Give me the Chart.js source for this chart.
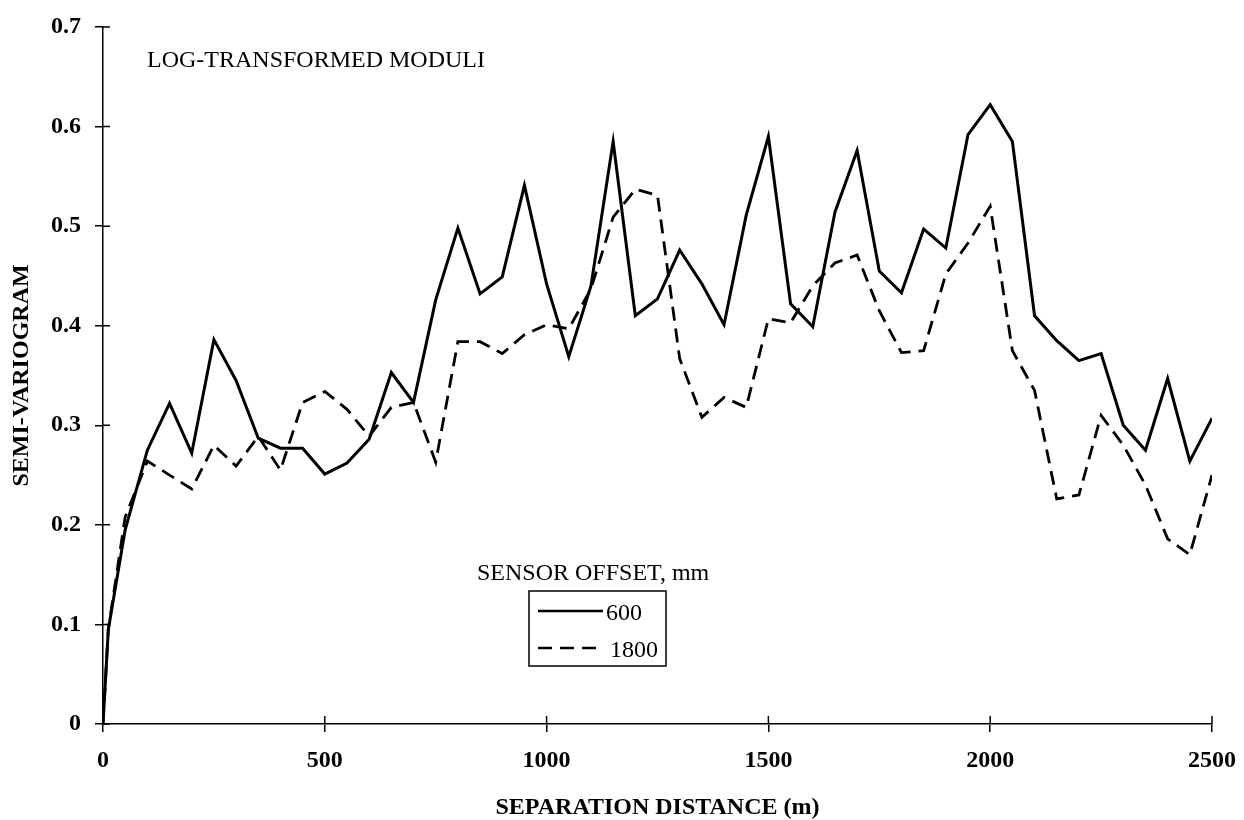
<!DOCTYPE html>
<html>
<head>
<meta charset="utf-8">
<script src="https://cdn.jsdelivr.net/npm/chart.js@4.4.1/dist/chart.umd.min.js"></script>
<style>
  html, body { margin: 0; padding: 0; background: #fff; }
  #wrap { width: 1244px; height: 820px; }
</style>
</head>
<body>
<div id="wrap"><canvas id="chart" width="1244" height="820"></canvas></div>
<script>
// lag distances (m) and semi-variogram values
const distances = [0, 12, 50, 100, 150, 200, 250, 300, 350, 400, 450, 500, 550, 600, 650, 700, 750, 800, 850, 900, 950,
    1000, 1050, 1100, 1150, 1200, 1250, 1300, 1350, 1400, 1450, 1500, 1550, 1600, 1650, 1700, 1750, 1800, 1850, 1900, 1950,
    2000, 2050, 2100, 2150, 2200, 2250, 2300, 2350, 2400, 2450, 2500];

const offset600 = [0, 0.095, 0.195, 0.275, 0.322, 0.272, 0.386, 0.345, 0.287, 0.277, 0.277, 0.251, 0.262, 0.286, 0.353, 0.323, 0.426, 0.498, 0.432, 0.449, 0.541,
    0.442, 0.369, 0.44, 0.585, 0.41, 0.427, 0.476, 0.442, 0.401, 0.511, 0.59, 0.422, 0.399, 0.514, 0.576, 0.455, 0.433, 0.497, 0.478, 0.592,
    0.622, 0.585, 0.41, 0.385, 0.365, 0.372, 0.30, 0.275, 0.347, 0.264, 0.307];

const offset1800 = [0, 0.095, 0.208, 0.264, 0.25, 0.236, 0.28, 0.259, 0.289, 0.255, 0.323, 0.334, 0.316, 0.289, 0.318, 0.323, 0.263, 0.384, 0.384, 0.372, 0.391,
    0.401, 0.397, 0.437, 0.509, 0.537, 0.531, 0.367, 0.308, 0.328, 0.318, 0.407, 0.403, 0.44, 0.463, 0.471, 0.415, 0.373, 0.375, 0.452, 0.483,
    0.52, 0.375, 0.335, 0.226, 0.23, 0.31, 0.28, 0.24, 0.186, 0.17, 0.25];

const seriesNames = ['600', '1800'];
const xTickValues = [0, 500, 1000, 1500, 2000, 2500];
const yTickValues = [0, 0.1, 0.2, 0.3, 0.4, 0.5, 0.6, 0.7];

const serif = "'Liberation Serif', 'Times New Roman', serif";

const toPoints = (xs, ys) => xs.map((x, i) => ({ x: x, y: ys[i] }));

// tick marks in the reference cross the axis, so add the inner half
const innerTicks = {
    id: 'innerTicks',
    afterDraw(chart) {
        const { ctx, chartArea, scales } = chart;
        ctx.save();
        ctx.strokeStyle = '#000';
        ctx.lineWidth = 1.5;
        ctx.beginPath();
        xTickValues.forEach(v => {
            const px = scales.x.getPixelForValue(v);
            ctx.moveTo(px, chartArea.bottom);
            ctx.lineTo(px, chartArea.bottom - 8);
        });
        yTickValues.forEach(v => {
            const py = scales.y.getPixelForValue(v);
            ctx.moveTo(chartArea.left, py);
            ctx.lineTo(chartArea.left + 7, py);
        });
        ctx.stroke();
        ctx.restore();
    }
};

// note text + boxed legend drawn inside the plot
const annotations = {
    id: 'annotations',
    afterDraw(chart) {
        const ctx = chart.ctx;
        const area = chart.chartArea;
        ctx.save();
        ctx.fillStyle = '#000';
        ctx.textBaseline = 'alphabetic';
        ctx.font = `24px ${serif}`;
        ctx.fillText('LOG-TRANSFORMED MODULI', area.left + 44, area.top + 40);

        ctx.fillText('SENSOR OFFSET, mm', 477, 580);

        const box = { x: 529, y: 591, w: 137, h: 75 };
        ctx.lineWidth = 1.5;
        ctx.strokeStyle = '#000';
        ctx.strokeRect(box.x, box.y, box.w, box.h);

        chart.data.datasets.forEach((ds, i) => {
            const rowY = box.y + 20 + i * 37;
            ctx.beginPath();
            ctx.lineWidth = 2.5;
            ctx.setLineDash(ds.borderDash || []);
            ctx.moveTo(box.x + 9, rowY);
            ctx.lineTo(box.x + (i === 0 ? 74 : 70), rowY);
            ctx.stroke();
            ctx.setLineDash([]);
            ctx.fillText(ds.label, box.x + (i === 0 ? 77 : 81), rowY + 9);
        });
        ctx.restore();
    }
};

new Chart(document.getElementById('chart'), {
    type: 'scatter',
    data: {
        datasets: [{
            label: seriesNames[0],
            data: toPoints(distances, offset600),
            showLine: true,
            borderColor: '#000',
            borderWidth: 3,
            pointRadius: 0,
            tension: 0
        }, {
            label: seriesNames[1],
            data: toPoints(distances, offset1800),
            showLine: true,
            borderColor: '#000',
            borderWidth: 2.8,
            borderDash: [14, 8],
            pointRadius: 0,
            tension: 0
        }]
    },
    options: {
        responsive: false,
        animation: false,
        devicePixelRatio: 1,
        layout: { padding: { top: 27, right: 32, left: 0, bottom: 0 } },
        plugins: {
            legend: { display: false },
            tooltip: { enabled: false }
        },
        scales: {
            x: {
                type: 'linear',
                min: 0,
                max: 2500,
                afterBuildTicks: scale => { scale.ticks = xTickValues.map(v => ({ value: v })); },
                afterFit: scale => {
                    scale.height = 96;
                    scale.paddingLeft = 0;
                    scale.paddingRight = 0;
                },
                border: { display: true, color: '#000', width: 1.5 },
                grid: { drawOnChartArea: false, color: '#000', tickLength: 8, lineWidth: 1.5 },
                ticks: {
                    color: '#000',
                    padding: 14,
                    font: { family: serif, size: 24, weight: 'bold' },
                    callback: v => String(v)
                },
                title: {
                    display: true,
                    text: 'SEPARATION DISTANCE (m)',
                    color: '#000',
                    padding: { top: 0, bottom: 0 },
                    font: { family: serif, size: 24, weight: 'bold', lineHeight: 1 }
                }
            },
            y: {
                min: 0,
                max: 0.7,
                afterBuildTicks: scale => { scale.ticks = yTickValues.map(v => ({ value: v })); },
                afterFit: scale => {
                    scale.width = 103;
                    scale.paddingTop = 0;
                    scale.paddingBottom = 0;
                },
                border: { display: true, color: '#000', width: 1.5 },
                grid: { drawOnChartArea: false, color: '#000', tickLength: 8, lineWidth: 1.5 },
                ticks: {
                    color: '#000',
                    padding: 14,
                    font: { family: serif, size: 24, weight: 'bold' },
                    callback: v => v === 0 ? '0' : v.toFixed(1)
                },
                title: {
                    display: true,
                    text: 'SEMI-VARIOGRAM',
                    color: '#000',
                    padding: { top: 10, bottom: 0 },
                    font: { family: serif, size: 24, weight: 'bold', lineHeight: 1 }
                }
            }
        }
    },
    plugins: [innerTicks, annotations]
});
</script>
</body>
</html>
